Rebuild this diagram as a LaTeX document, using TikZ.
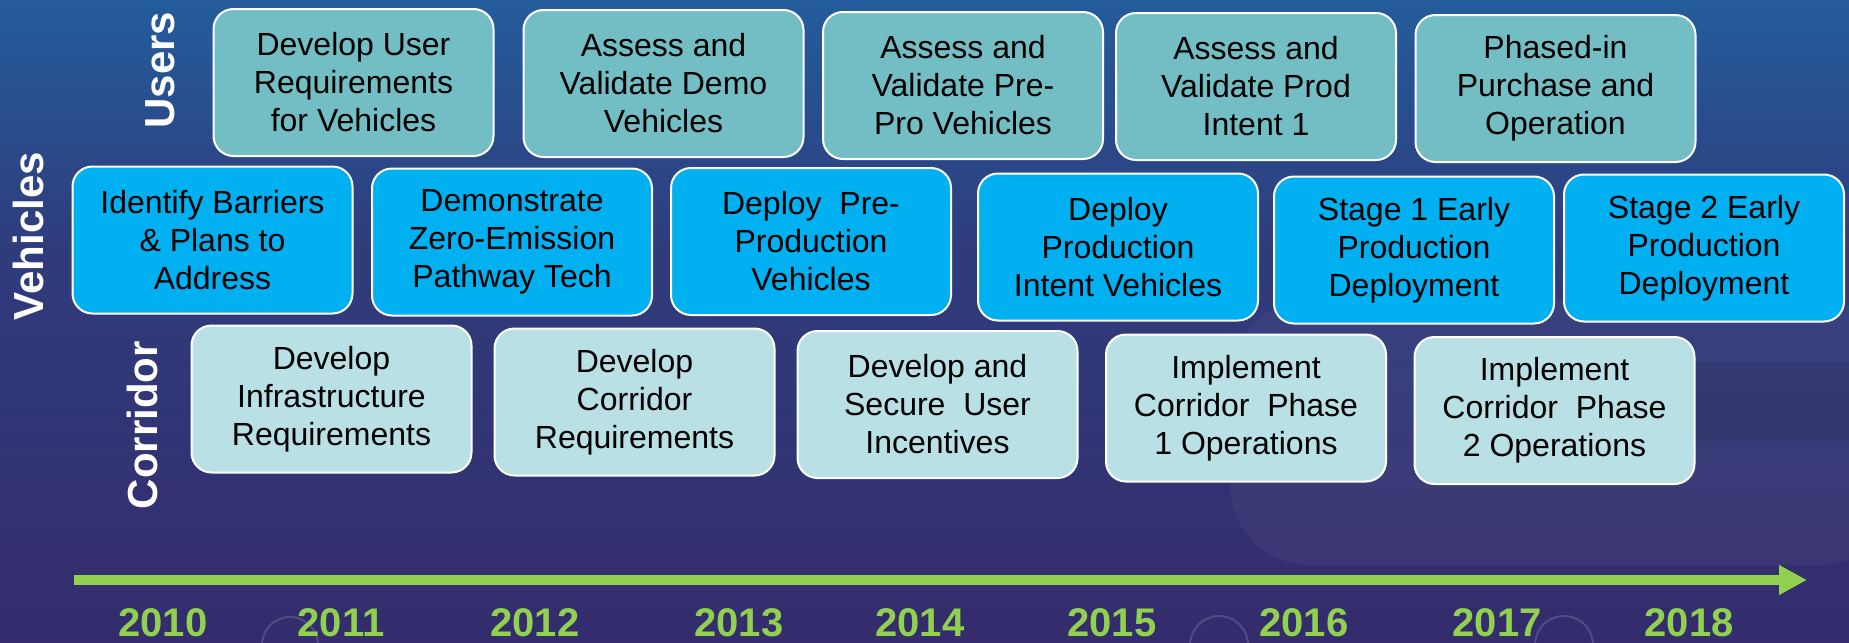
\documentclass[tikz,border=0pt]{standalone}
\usepackage{fontspec}
\setmainfont{Liberation Sans}
\usetikzlibrary{arrows.meta}

\definecolor{bgtop}{RGB}{36,92,156}
\definecolor{bgmid}{RGB}{47,60,124}
\definecolor{bgbot}{RGB}{52,44,108}
\definecolor{userteal}{RGB}{115,190,196}
\definecolor{vehblue}{RGB}{0,176,240}
\definecolor{corrlight}{RGB}{185,224,228}
\definecolor{yeargreen}{RGB}{146,208,80}

\begin{document}
\begin{tikzpicture}[x=0.5pt,y=-0.5pt,>={Triangle[length=14pt,width=14pt]},
  task/.style={draw=white,line width=1pt,rounded corners=10pt,minimum width=140pt,
    minimum height=73.5pt,inner sep=0pt,align=center,text=black,
    font=\fontsize{16pt}{19pt}\selectfont},
  usertask/.style={task,fill=userteal},
  vehtask/.style={task,fill=vehblue},
  corrtask/.style={task,fill=corrlight},
  lane/.style={rotate=90,text=white,inner sep=0pt,font=\fontsize{21pt}{24pt}\selectfont\bfseries},
  year/.style={text=yeargreen,inner sep=0pt,font=\fontsize{20pt}{24pt}\selectfont\bfseries}]

\useasboundingbox (0,0) rectangle (1849,643);

% background
\shade[top color=bgtop,bottom color=bgmid] (0,0) rectangle (1849,250);
\shade[top color=bgmid,bottom color=bgbot] (0,250) rectangle (1849,643);
\fill[white,opacity=0.04,rounded corners=40pt] (1230,300) rectangle (1900,565);
\fill[black,opacity=0.08] (1694,362) rectangle (1849,440);
\draw[white,opacity=0.15,line width=1pt] (290,645) circle (28);
\draw[white,opacity=0.15,line width=1pt] (1219,645) circle (29);
\draw[white,opacity=0.15,line width=1pt] (1564,645) circle (29);

% lanes
\node[lane] (lusers) at (160,70) {Users};
\node[lane] (lvehicles) at (28,236) {Vehicles};
\node[lane] (lcorridor) at (142,425) {Corridor};

% users row
\node[usertask] (u1) at (353.5,82.5) {Develop User\\Requirements\\for Vehicles};
\node[usertask] (u2) at (663.5,83.5) {Assess and\\Validate Demo\\Vehicles};
\node[usertask] (u3) at (963,85.5) {Assess and\\Validate Pre-\\Pro Vehicles};
\node[usertask] (u4) at (1256,86.5) {Assess and\\Validate Prod\\Intent 1};
\node[usertask] (u5) at (1555.5,88.5) {Phased-in\\Purchase and\\Operation};

% vehicles row
\node[vehtask] (v1) at (212.5,240) {Identify Barriers\\\& Plans to\\Address};
\node[vehtask] (v2) at (512,242) {Demonstrate\\Zero-Emission\\Pathway Tech};
\node[vehtask] (v3) at (811,241.5) {Deploy\ \ Pre-\\Production\\Vehicles};
\node[vehtask] (v4) at (1118,247) {Deploy\\Production\\Intent Vehicles};
\node[vehtask] (v5) at (1414,250) {Stage 1 Early\\Production\\Deployment};
\node[vehtask] (v6) at (1704,248) {Stage 2 Early\\Production\\Deployment};

% corridor row
\node[corrtask] (c1) at (331.5,399) {Develop\\Infrastructure\\Requirements};
\node[corrtask] (c2) at (634.5,402) {Develop\\Corridor\\Requirements};
\node[corrtask] (c3) at (937.5,404.5) {Develop and\\Secure\ \ User\\Incentives};
\node[corrtask] (c4) at (1246,408) {Implement\\Corridor\ \ Phase\\1 Operations};
\node[corrtask] (c5) at (1554.5,410.5) {Implement\\Corridor\ \ Phase\\2 Operations};

% time line
\coordinate (tl0) at (74,580);
\coordinate (tl1) at (1807,580);
\draw[->,yeargreen,line width=4.6pt] (tl0) -- (tl1);

\node[year] (y2010) at (163,622.5) {2010};
\node[year] (y2011) at (341,622.5) {2011};
\node[year] (y2012) at (535,622.5) {2012};
\node[year] (y2013) at (739,622.5) {2013};
\node[year] (y2014) at (920,622.5) {2014};
\node[year] (y2015) at (1112,622.5) {2015};
\node[year] (y2016) at (1304,622.5) {2016};
\node[year] (y2017) at (1497,622.5) {2017};
\node[year] (y2018) at (1689,622.5) {2018};

\end{tikzpicture}
\end{document}
